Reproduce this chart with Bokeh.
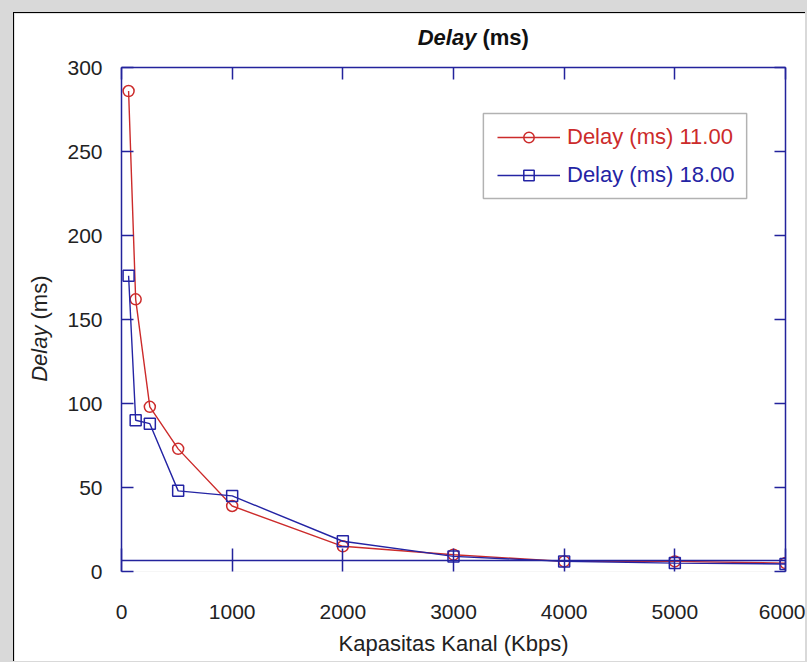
import numpy as np
from bokeh.plotting import figure
from bokeh.models import LinearAxis, Span, Legend, LegendItem, Label, FixedTicker, BoxAnnotation
from bokeh.embed import file_html
from bokeh.resources import INLINE

# ---- data ----
kapasitas = [64, 128, 256, 512, 1000, 2000, 3000, 4000, 5000, 6000]
delay_11 = [286, 162, 98, 73, 39, 15, 10, 6, 6, 5]
delay_18 = [176, 90, 88, 48, 45, 18, 9, 6, 5, 4.5]
series_labels = ["Delay (ms) 11.00", "Delay (ms) 18.00"]
x_ticks = [0, 1000, 2000, 3000, 4000, 5000, 6000]
y_ticks = [0, 50, 100, 150, 200, 250, 300]
x_title = "Kapasitas Kanal (Kbps)"
title_parts = ["Delay", "(ms)"]

RED = "#cc2b2b"
BLUE = "#2424a4"
AXIS = "#23239c"
FONT = "Liberation Sans"

p = figure(width=792, height=649, x_range=(0, 6000), y_range=(0, 300),
           output_backend="svg", toolbar_location=None,
           min_border_left=105, min_border_right=21,
           min_border_top=54, min_border_bottom=91)
p.outline_line_color = None
p.xgrid.visible = False
p.ygrid.visible = False
p.background_fill_color = "white"
p.border_fill_color = "white"


def style_axis(ax, ticks, tick_in, show_labels=True):
    ax.ticker = FixedTicker(ticks=ticks)
    ax.major_tick_in = tick_in
    ax.major_tick_out = 0
    ax.minor_tick_in = 0
    ax.minor_tick_out = 0
    ax.major_tick_line_color = AXIS
    ax.major_tick_line_width = 1.5
    ax.axis_line_color = AXIS
    ax.axis_line_width = 1.5
    ax.major_label_text_font = FONT
    ax.major_label_text_font_size = "21px"
    ax.major_label_text_color = "#222222"
    if not show_labels:
        ax.major_label_overrides = {t: "" for t in ticks}


xb = p.xaxis[0]
style_axis(xb, x_ticks, 23)
xb.axis_line_color = None
xb.major_label_standoff = 33
xb.axis_label = x_title
xb.axis_label_text_font = FONT
xb.axis_label_text_font_size = "22px"
xb.axis_label_text_font_style = "normal"
xb.axis_label_text_color = "#222222"
xb.axis_label_standoff = 9

yl = p.yaxis[0]
style_axis(yl, y_ticks, 12)
yl.major_label_standoff = 19

top = LinearAxis()
style_axis(top, x_ticks, 12, show_labels=False)
p.add_layout(top, "above")

right = LinearAxis()
style_axis(right, y_ticks, 11, show_labels=False)
p.add_layout(right, "right")

# x-axis baseline drawn slightly above zero, as in the reference
p.add_layout(Span(location=6.5, dimension="width", line_color=AXIS, line_width=1.5))

r_line = p.line(kapasitas, delay_11, line_color=RED, line_width=1.4)
r_pts = p.scatter(kapasitas, delay_11, marker="circle", size=11,
                  line_color=RED, fill_color=None, line_width=1.5)
b_line = p.line(kapasitas, delay_18, line_color=BLUE, line_width=1.4)
b_pts = p.scatter(kapasitas, delay_18, marker="square", size=11,
                  line_color=BLUE, fill_color=None, line_width=1.5)

# legend box + one legend per entry (each with its own text colour)
p.add_layout(BoxAnnotation(left=3270, right=5649, top=272.6, bottom=222.0,
                           fill_color="white", fill_alpha=1.0,
                           line_color="black", line_width=1.5))
leg_common = dict(glyph_width=63, glyph_height=26, label_height=26, label_standoff=7,
                  label_text_font=FONT, label_text_font_size="22px", margin=0,
                  padding=0, spacing=0, border_line_color=None,
                  background_fill_alpha=0.0)
leg1 = Legend(items=[LegendItem(label=series_labels[0], renderers=[r_line, r_pts])],
              location=(376, 421), label_text_color=RED, **leg_common)
leg2 = Legend(items=[LegendItem(label=series_labels[1], renderers=[b_line, b_pts])],
              location=(376, 383), label_text_color=BLUE, **leg_common)
p.add_layout(leg1, "center")
p.add_layout(leg2, "center")

# title with italic "Delay" (placed in the top side panel so it is not clipped)
p.add_layout(Label(x=3207, y=318, text=title_parts[0], text_align="right",
                   text_baseline="middle", text_font=FONT, text_font_size="22px",
                   text_font_style="bold italic", text_color="#111111"), "above")
p.add_layout(Label(x=3261, y=318, text=title_parts[1], text_align="left",
                   text_baseline="middle", text_font=FONT, text_font_size="22px",
                   text_font_style="bold", text_color="#111111"), "above")

# y axis title with italic "Delay"
p.add_layout(Label(x=-739, y=146.4, text=title_parts[0], text_align="right",
                   text_baseline="middle", angle=np.pi / 2, text_font=FONT,
                   text_font_size="22px", text_font_style="italic",
                   text_color="#222222"), "left")
p.add_layout(Label(x=-739, y=150.0, text=title_parts[1], text_align="left",
                   text_baseline="middle", angle=np.pi / 2, text_font=FONT,
                   text_font_size="22px", text_font_style="normal",
                   text_color="#222222"), "left")

p.styles = {"border-top": "1px solid black", "border-left": "1px solid black"}

tmpl = """
{% block inner_head %}
{{ super() }}
<style>
html, body { background-color: #d9d9d9 !important; }
body { padding: 12px 0 0 13px !important; overflow: hidden; }
</style>
{% endblock %}
"""

open("out.html", "w").write(file_html(p, INLINE, template=tmpl))
